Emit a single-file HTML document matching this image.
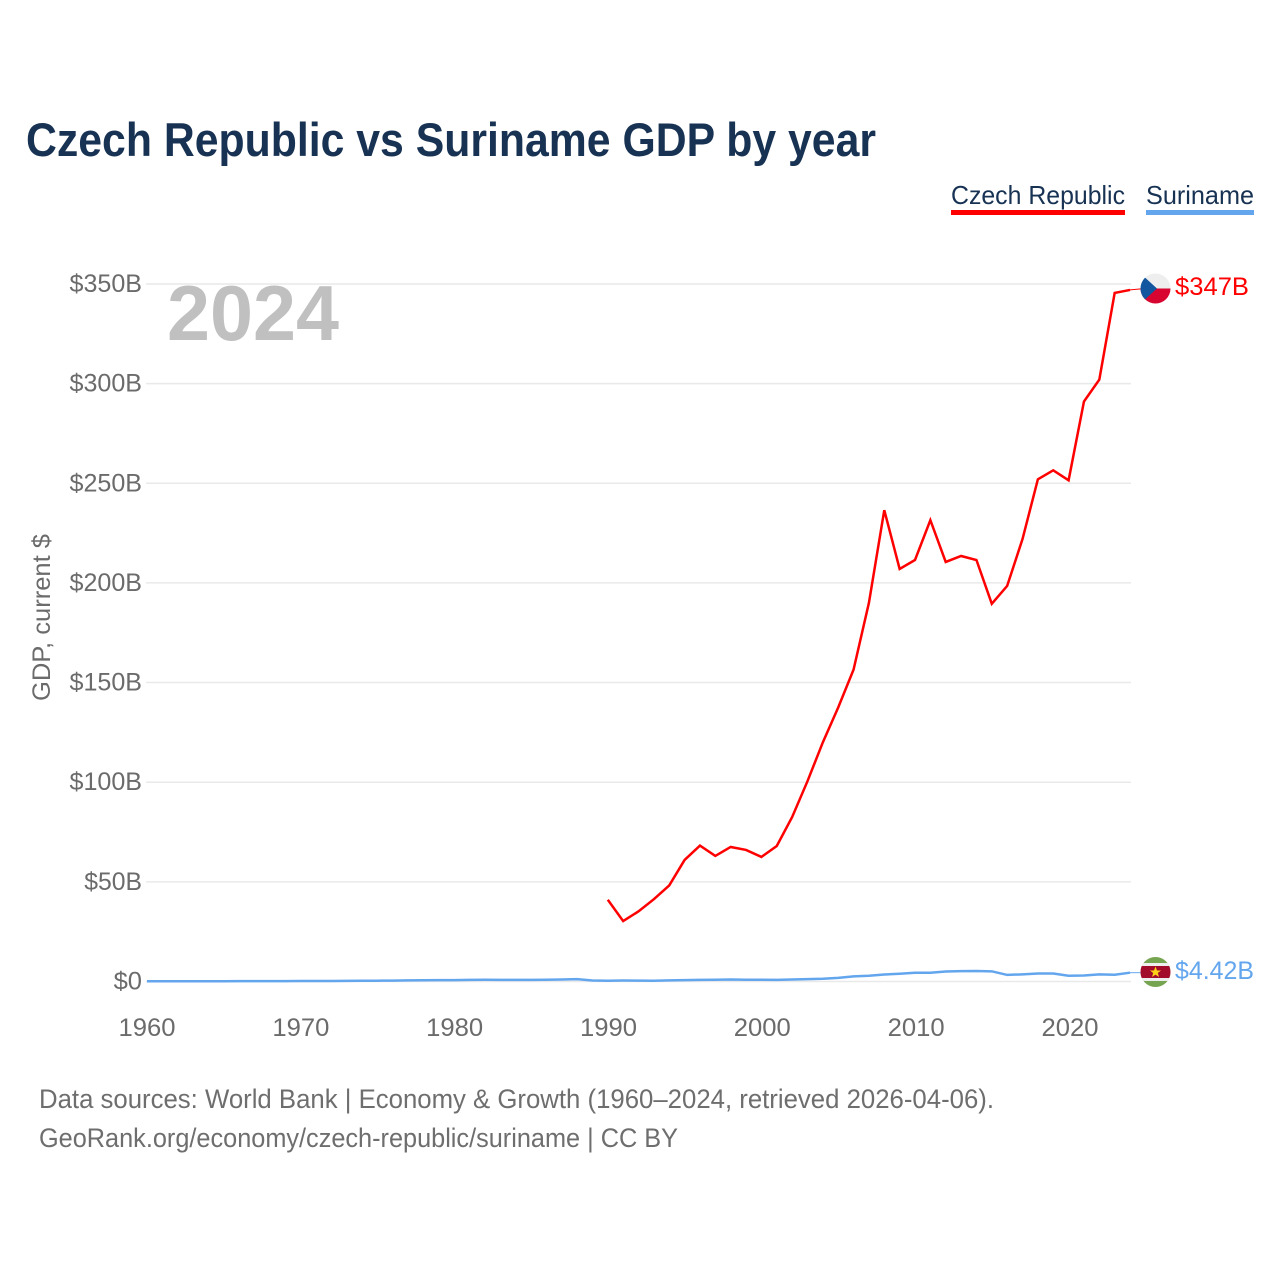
<!DOCTYPE html>
<html lang="en">
<head>
<meta charset="utf-8">
<title>Czech Republic vs Suriname GDP by year</title>
<style>
html,body{margin:0;padding:0;background:#fff;}
svg{display:block;font-family:"Liberation Sans",Arial,sans-serif;}
</style>
</head>
<body>
<svg id="chart" width="1280" height="1280" viewBox="0 0 1280 1280" xmlns="http://www.w3.org/2000/svg">
  <defs>
    <clipPath id="flag-clip-cz"><circle id="clip-cz" cx="1155.5" cy="288.5" r="15"></circle></clipPath>
    <clipPath id="flag-clip-sr"><circle id="clip-sr" cx="1155.5" cy="972" r="15"></circle></clipPath>
  </defs>
  <rect width="1280" height="1280" fill="#ffffff"></rect>
  <text x="26" y="156" font-size="47" font-weight="700" fill="#173253" textLength="850" lengthAdjust="spacingAndGlyphs">Czech Republic vs Suriname GDP by year</text>
  <text x="951" y="204" font-size="26" fill="#173253" textLength="174" lengthAdjust="spacingAndGlyphs">Czech Republic</text>
  <rect x="951" y="210" width="174" height="5" fill="#ff0000"></rect>
  <text x="1146" y="204" font-size="26" fill="#173253" textLength="108" lengthAdjust="spacingAndGlyphs">Suriname</text>
  <rect x="1146" y="210" width="108" height="5" fill="#63a6ee"></rect>
  <g id="grid"></g>
  <g id="y-ticks"></g>
  <g id="x-ticks"></g>
  <text x="167" y="340" font-size="78" font-weight="700" fill="#c0c0c0" textLength="172" lengthAdjust="spacingAndGlyphs">2024</text>
  <text transform="translate(50 701) rotate(-90)" x="0" y="0" font-size="25" fill="#6b6b6b" textLength="167" lengthAdjust="spacingAndGlyphs">GDP, current $</text>
  <g id="series"></g>

  <g clip-path="url(#flag-clip-cz)">
    <rect x="1140" y="273" width="31" height="16" fill="#eeeeee"></rect>
    <rect x="1140" y="288.5" width="31" height="16" fill="#d7052f"></rect>
    <polygon points="1140,273 1157,288.5 1140,304" fill="#11569f"></polygon>
  </g>
  <g clip-path="url(#flag-clip-sr)">
    <rect x="1140" y="956" width="31" height="32" fill="#75a550"></rect>
    <rect x="1140" y="963" width="31" height="18" fill="#eeeeee"></rect>
    <rect x="1140" y="966" width="31" height="12" fill="#a30b2b"></rect>
    <polygon points="1155.5,966.5 1157,970.5 1161,970.5 1157.8,973 1159,977 1155.5,974.6 1152,977 1153.2,973 1150,970.5 1154,970.5" fill="#fcd116"></polygon>
  </g>
  <text x="1175" y="295" font-size="25" fill="#ff0000" textLength="74" lengthAdjust="spacingAndGlyphs">$347B</text>
  <text x="1175" y="979" font-size="25" fill="#63a6ee" textLength="79" lengthAdjust="spacingAndGlyphs">$4.42B</text>

  <text x="39" y="1108" font-size="27" fill="#6e6e6e" textLength="955" lengthAdjust="spacingAndGlyphs">Data sources: World Bank | Economy &amp; Growth (1960–2024, retrieved 2026-04-06).</text>
  <text x="39" y="1147" font-size="27" fill="#6e6e6e" textLength="639" lengthAdjust="spacingAndGlyphs">GeoRank.org/economy/czech-republic/suriname | CC BY</text>
</svg>
<script>
const yTickValues = [0, 50, 100, 150, 200, 250, 300, 350];
const yTickLabels = ['$0', '$50B', '$100B', '$150B', '$200B', '$250B', '$300B', '$350B'];
const xTickYears = [1960, 1970, 1980, 1990, 2000, 2010, 2020];
const czechYears = [1990,1991,1992,1993,1994,1995,1996,1997,1998,1999,2000,2001,2002,2003,2004,2005,2006,2007,2008,2009,2010,2011,2012,2013,2014,2015,2016,2017,2018,2019,2020,2021,2022,2023,2024];
const czechGdp = [41,30.3,35.2,41.3,48.2,61,68.2,63,67.5,66,62.5,68,82.5,100.5,120,137.5,156.5,190,236.5,207,211.5,231.5,210.5,213.5,211.5,189.5,198.5,222,252,256.5,251.5,291,302,345.5,347];
const surinameYears = [1960,1961,1962,1963,1964,1965,1966,1967,1968,1969,1970,1971,1972,1973,1974,1975,1976,1977,1978,1979,1980,1981,1982,1983,1984,1985,1986,1987,1988,1989,1990,1991,1992,1993,1994,1995,1996,1997,1998,1999,2000,2001,2002,2003,2004,2005,2006,2007,2008,2009,2010,2011,2012,2013,2014,2015,2016,2017,2018,2019,2020,2021,2022,2023,2024];
const surinameGdp = [0.1,0.1,0.1,0.1,0.1,0.15,0.2,0.2,0.2,0.2,0.25,0.25,0.25,0.3,0.35,0.4,0.45,0.55,0.65,0.7,0.7,0.8,0.85,0.8,0.8,0.8,0.85,1,1.2,0.5,0.4,0.5,0.45,0.4,0.55,0.7,0.8,0.85,1,0.85,0.9,0.8,1,1.2,1.4,1.8,2.6,2.9,3.5,3.9,4.4,4.4,5,5.2,5.3,5.1,3.3,3.6,4,4,2.9,3,3.6,3.4,4.42];

const svgNS = 'http://www.w3.org/2000/svg';
const xScale = function (year) { return 147 + (year - 1960) * 15.36; };
const xTickScale = function (year) { return 147 + (year - 1960) * 15.383; };
const yScale = function (value) { return 981.5 - value * 1.993; };
const gridGroup = document.getElementById('grid');
const yGroup = document.getElementById('y-ticks');
const xGroup = document.getElementById('x-ticks');
const seriesGroup = document.getElementById('series');

yTickValues.forEach(function (value, i) {
  const line = document.createElementNS(svgNS, 'line');
  
  
  line.setAttribute('x1', 146);
  line.setAttribute('x2', 1131);
  line.setAttribute('y1', yScale(value));
  line.setAttribute('y2', yScale(value));
  line.setAttribute('stroke', '#e9e9e9');
  line.setAttribute('stroke-width', 1.5);
  gridGroup.appendChild(line);

  const label = document.createElementNS(svgNS, 'text');
  
  
  label.setAttribute('x', 142);
  label.setAttribute('y', yScale(value) + 8);
  label.setAttribute('text-anchor', 'end');
  label.setAttribute('font-size', 25);
  label.setAttribute('fill', '#6b6b6b');
  label.setAttribute('textLength', yTickLabels[i].length * 14.7 - 1);
  label.setAttribute('lengthAdjust', 'spacingAndGlyphs');
  label.textContent = yTickLabels[i];
  yGroup.appendChild(label);
});

xTickYears.forEach(function (year) {
  const label = document.createElementNS(svgNS, 'text');
  
  
  label.setAttribute('x', xTickScale(year));
  label.setAttribute('y', 1036);
  label.setAttribute('text-anchor', 'middle');
  label.setAttribute('font-size', 25);
  label.setAttribute('fill', '#6b6b6b');
  label.setAttribute('textLength', 57);
  label.setAttribute('lengthAdjust', 'spacingAndGlyphs');
  label.textContent = String(year);
  xGroup.appendChild(label);
});

const buildPoints = function (years, values) {
  return years.map(function (year, i) {
    return xScale(year).toFixed(2) + ',' + yScale(values[i]).toFixed(2);
  }).join(' ');
};

const suriLine = document.createElementNS(svgNS, 'polyline');


suriLine.setAttribute('points', buildPoints(surinameYears, surinameGdp));
suriLine.setAttribute('fill', 'none');
suriLine.setAttribute('stroke', '#63a6ee');
suriLine.setAttribute('stroke-width', 2.5);
seriesGroup.appendChild(suriLine);

const czechLine = document.createElementNS(svgNS, 'polyline');


czechLine.setAttribute('points', buildPoints(czechYears, czechGdp));
czechLine.setAttribute('fill', 'none');
czechLine.setAttribute('stroke', '#ff0000');
czechLine.setAttribute('stroke-width', 2.5);
seriesGroup.appendChild(czechLine);

const czechLead = document.createElementNS(svgNS, 'line');


czechLead.setAttribute('x1', xScale(2024));
czechLead.setAttribute('y1', yScale(czechGdp[czechGdp.length - 1]));
czechLead.setAttribute('x2', 1141);
czechLead.setAttribute('y2', yScale(czechGdp[czechGdp.length - 1]) - 1);
czechLead.setAttribute('stroke', '#ff0000');
czechLead.setAttribute('stroke-width', 1);
seriesGroup.appendChild(czechLead);

const suriLead = document.createElementNS(svgNS, 'line');


suriLead.setAttribute('x1', xScale(2024));
suriLead.setAttribute('y1', yScale(surinameGdp[surinameGdp.length - 1]));
suriLead.setAttribute('x2', 1141);
suriLead.setAttribute('y2', yScale(surinameGdp[surinameGdp.length - 1]));
suriLead.setAttribute('stroke', '#63a6ee');
suriLead.setAttribute('stroke-width', 1);
seriesGroup.appendChild(suriLead);
</script>
</body>
</html>
